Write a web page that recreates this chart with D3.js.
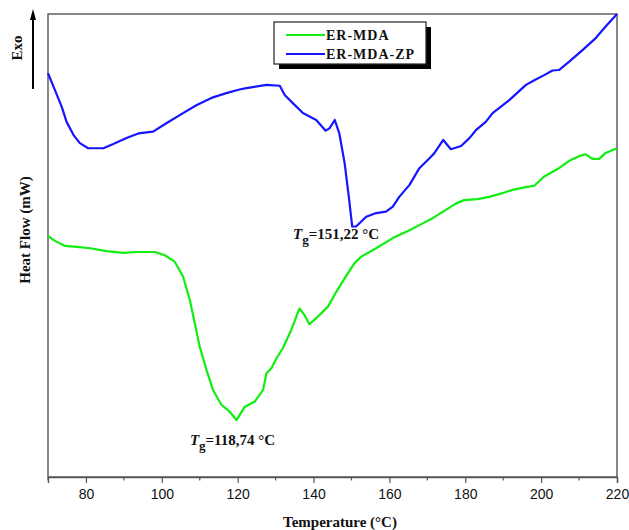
<!DOCTYPE html>
<html lang="en">
<head>
<meta charset="UTF-8">
<title>DSC curves ER-MDA / ER-MDA-ZP</title>
<script src="https://d3js.org/d3.v7.min.js"></script>
<style>
    * { margin: 0; padding: 0; }
    body { background: #fff; width: 629px; height: 530px; overflow: hidden; }
    svg { display: block; font-family: "Liberation Serif", "Times New Roman", serif; }
    .tick-label { font-size: 14px; fill: #111; }
    .title { font-size: 15px; font-weight: bold; fill: #111; }
    .legend-text { font-size: 14px; font-weight: bold; letter-spacing: 1px; fill: #111; }
    .note { font-size: 15px; font-weight: bold; fill: #111; }
</style>
</head>
<body>
<div id="chart"></div>
<script>
    // Temperature (°C) and heat flow (arbitrary units)
    const tempZP = [70, 71.8, 73.6, 74.9, 76.7, 78.4, 80.6, 84.6, 87.2, 90.7, 93.8, 97.7, 101.2, 105.6, 109.1,
        113.5, 117.0, 120.5, 122.3, 127.6, 131.1, 132.4, 134.6, 137.2, 140.7, 143.2, 144.2, 145.6, 146.8, 148.2,
        149.3, 150.2, 151.2, 153.9, 156.5, 159.1, 160.9, 162.6, 165.3, 167.9, 170.5, 171.8, 174.2, 176.2, 178.9,
        181.1, 182.8, 185.4, 187.2, 191.6, 196.0, 198.2, 200.8, 203.0, 204.7, 207.4, 210.9, 214.4, 217.0, 220];
    const flowZP = [8.72, 8.36, 8.00, 7.67, 7.39, 7.21, 7.10, 7.10, 7.19, 7.32, 7.42, 7.46, 7.64, 7.86, 8.03,
        8.20, 8.29, 8.37, 8.40, 8.47, 8.45, 8.25, 8.07, 7.86, 7.71, 7.48, 7.53, 7.71, 7.42, 6.78,
        6.05, 5.41, 5.41, 5.62, 5.70, 5.73, 5.84, 6.05, 6.31, 6.67, 6.88, 6.99, 7.28, 7.08, 7.15,
        7.32, 7.49, 7.67, 7.86, 8.14, 8.47, 8.57, 8.68, 8.78, 8.79, 8.97, 9.22, 9.48, 9.73, 10.0];

    const tempMDA = [70, 71.8, 74.5, 77.6, 81.1, 85.4, 89.8, 93.3, 98.2, 100.8, 103.4, 105.6, 107.4, 108.7, 110.0,
        111.8, 113.5, 115.7, 117.9, 119.7, 121.8, 124.5, 126.7, 127.6, 128.9, 130.2, 131.9, 134.1, 136.3, 137.6,
        138.9, 140.7, 143.8, 146.0, 148.2, 150.8, 152.6, 156.5, 160.9, 165.3, 167.9, 171.4, 174.9, 177.6, 179.7,
        183.2, 186.3, 189.8, 192.4, 196.0, 198.2, 200.8, 204.7, 207.4, 210.0, 211.8, 213.5, 215.3, 217.0, 220];
    const flowMDA = [5.21, 5.10, 4.99, 4.97, 4.94, 4.88, 4.84, 4.86, 4.86, 4.79, 4.65, 4.33, 3.82, 3.32, 2.81,
        2.31, 1.88, 1.56, 1.41, 1.23, 1.51, 1.63, 1.88, 2.24, 2.35, 2.56, 2.78, 3.17, 3.64, 3.50,
        3.30, 3.43, 3.68, 4.00, 4.29, 4.62, 4.76, 4.94, 5.16, 5.33, 5.44, 5.59, 5.77, 5.91, 5.98,
        6.00, 6.05, 6.13, 6.20, 6.26, 6.29, 6.49, 6.67, 6.83, 6.93, 6.97, 6.87, 6.87, 7.00, 7.10];

    const seriesNames = ["ER-MDA", "ER-MDA-ZP"];
    const seriesColors = ["#11ee11", "#1515ff"];
    const xTicks = [80, 100, 120, 140, 160, 180, 200, 220];
    const xMinorTicks = [70, 90, 110, 130, 150, 170, 190, 210];
    const tgLabels = ["118,74 °C", "151,22 °C"];
    const tgTemps = [118.74, 151.22];
    const tgFlows = [0.7, 5.15];

    const width = 629, height = 530;
    const margin = { top: 14, right: 12, bottom: 53, left: 48 };

    const svg = d3.select("#chart").append("svg")
        .attr("width", width)
        .attr("height", height);

    const x = d3.scaleLinear().domain([70, 220]).range([margin.left, width - margin.right]);
    const y = d3.scaleLinear().domain([0, 10]).range([height - margin.bottom, margin.top]);

    // Frame
    svg.append("rect")
        .attr("x", margin.left)
        .attr("y", margin.top)
        .attr("width", width - margin.left - margin.right)
        .attr("height", height - margin.top - margin.bottom)
        .attr("fill", "none")
        .attr("stroke", "#555")
        .attr("stroke-width", 1.4);

    // Bottom axis
    const axisY = height - margin.bottom;
    const xAxis = svg.append("g")
        .attr("transform", `translate(0,${axisY})`)
        .call(d3.axisBottom(x).tickValues(xTicks).tickSize(6).tickPadding(6).tickFormat(d3.format("d")));
    xAxis.select(".domain").attr("stroke", "#555").attr("stroke-width", 1.4);
    xAxis.selectAll(".tick line").attr("stroke", "#555").attr("stroke-width", 1.2);
    xAxis.selectAll(".tick text")
        .attr("class", "tick-label")
        .attr("font-family", null)
        .attr("font-size", null);

    svg.append("g")
        .selectAll("line")
        .data(xMinorTicks)
        .join("line")
        .attr("x1", d => x(d)).attr("x2", d => x(d))
        .attr("y1", axisY).attr("y2", axisY + 3.5)
        .attr("stroke", "#555")
        .attr("stroke-width", 1.2);

    // Curves
    const line = d3.line()
        .x(d => x(d[0]))
        .y(d => y(d[1]));

    const dataMDA = tempMDA.map((t, i) => [t, flowMDA[i]]);
    const dataZP = tempZP.map((t, i) => [t, flowZP[i]]);

    [dataMDA, dataZP].forEach((data, i) => {
        svg.append("path")
            .datum(data)
            .attr("fill", "none")
            .attr("stroke", seriesColors[i])
            .attr("stroke-width", 2.2)
            .attr("stroke-linejoin", "round")
            .attr("d", line);
    });

    // Axis titles
    svg.append("text")
        .attr("class", "title")
        .attr("x", 340)
        .attr("y", 527)
        .attr("text-anchor", "middle")
        .text("Temperature (°C)");

    svg.append("text")
        .attr("class", "title")
        .attr("transform", "translate(30,230) rotate(-90)")
        .attr("text-anchor", "middle")
        .text("Heat Flow (mW)");

    // Exo arrow
    svg.append("text")
        .attr("class", "title")
        .attr("font-size", "14px")
        .attr("transform", "translate(22,48) rotate(-90)")
        .attr("text-anchor", "middle")
        .text("Exo");

    svg.append("line")
        .attr("x1", 33).attr("x2", 33)
        .attr("y1", 89).attr("y2", 18)
        .attr("stroke", "#000")
        .attr("stroke-width", 2);
    svg.append("path")
        .attr("d", "M33,9 L30,20 L36,20 Z")
        .attr("fill", "#000");

    // Tg annotations (text sits left of the transition point)
    const noteShift = [-43, -63];
    tgLabels.forEach((label, i) => {
        const t = svg.append("text")
            .attr("class", "note")
            .attr("x", x(tgTemps[i]) + noteShift[i])
            .attr("y", y(tgFlows[i]));
        t.append("tspan").attr("font-style", "italic").text("T");
        t.append("tspan").attr("dy", 5).attr("font-size", "13px").text("g");
        t.append("tspan").attr("dy", -5).text("=" + label);
    });

    // Legend
    const lg = svg.append("g").attr("transform", "translate(274,22)");
    lg.append("rect")
        .attr("x", 5).attr("y", 5)
        .attr("width", 152).attr("height", 42)
        .attr("fill", "#000");
    lg.append("rect")
        .attr("width", 152).attr("height", 42)
        .attr("fill", "#fff")
        .attr("stroke", "#222")
        .attr("stroke-width", 1.2);

    seriesNames.forEach((name, i) => {
        const yy = 13 + i * 19;
        lg.append("line")
            .attr("x1", 12).attr("x2", 51)
            .attr("y1", yy).attr("y2", yy)
            .attr("stroke", seriesColors[i])
            .attr("stroke-width", 2);
        lg.append("text")
            .attr("class", "legend-text")
            .attr("x", 52)
            .attr("y", yy + 5)
            .text(name);
    });
</script>
</body>
</html>
